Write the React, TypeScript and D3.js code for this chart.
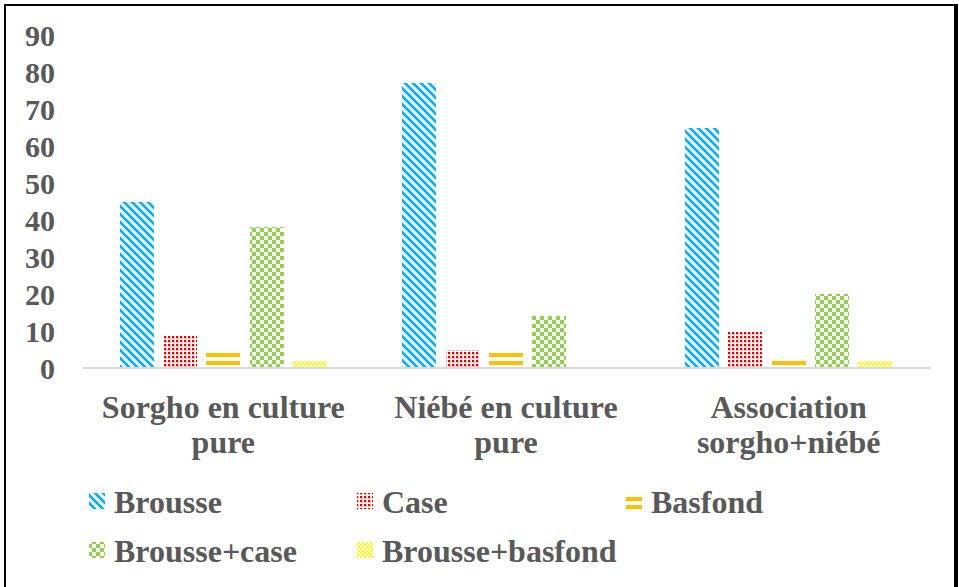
import React from "react";
import * as d3 from "d3";

const categories = ["Sorgho en culture pure", "Niébé en culture pure", "Association sorgho+niébé"];
const categoryLines = [["Sorgho en culture", "pure"], ["Niébé en culture", "pure"], ["Association", "sorgho+niébé"]];
const seriesNames = ["Brousse", "Case", "Basfond", "Brousse+case", "Brousse+basfond"];
const brousse = [45, 77, 65];
const caseV = [9, 5, 10];
const basfond = [4, 4, 3];
const brousseCase = [38, 14, 20];
const brousseBasfond = [2, 0, 2];
const yTicks = [0, 10, 20, 30, 40, 50, 60, 70, 80, 90];

const seriesValues = [brousse, caseV, basfond, brousseCase, brousseBasfond];
const patternIds = ["pBrousse", "pCase", "pBasfond", "pBrousseCase", "pBrousseBasfond"];

const W = 959, H = 587;
const TXT = "#595959";
const FONT = "'Liberation Serif', 'Times New Roman', serif";

function Patterns() {
  const diag: JSX.Element[] = [];
  for (let r = 0; r < 8; r++) {
    for (let k = 0; k < 5; k++) {
      const c = (r + k) % 8;
      const col = k === 0 || k === 4 ? "#9FDDF7" : "#00B0F0";
      diag.push(<rect key={r + "-" + k} x={c} y={r} width={1} height={1} fill={col} />);
    }
  }
  return (
    <defs>
      <pattern id="pBrousse" patternUnits="userSpaceOnUse" width={8} height={8}>
        <rect width={8} height={8} fill="#fff" />
        {diag}
      </pattern>
      <pattern id="pCase" patternUnits="userSpaceOnUse" width={4} height={4}>
        <rect width={4} height={4} fill="#fff" />
        <rect x={0} y={0} width={3} height={3} fill="#F6B8B8" />
        <rect x={0} y={0} width={2} height={2} fill="#E00000" />
      </pattern>
      <pattern id="pBasfond" patternUnits="userSpaceOnUse" width={8} height={8} y={1}>
        <rect width={8} height={8} fill="#fff" />
        <rect x={0} y={0} width={8} height={4} fill="#FFC000" />
      </pattern>
      <pattern id="pBrousseCase" patternUnits="userSpaceOnUse" width={8} height={8}>
        <rect width={8} height={8} fill="#fff" />
        <rect x={0} y={0} width={4} height={4} fill="#92D050" />
        <rect x={4} y={4} width={4} height={4} fill="#92D050" />
      </pattern>
      <pattern id="pBrousseBasfond" patternUnits="userSpaceOnUse" width={4} height={4}>
        <rect width={4} height={4} fill="#fff" />
        <rect x={0} y={0} width={2} height={2} fill="#FFFF00" />
        <rect x={2} y={2} width={2} height={2} fill="#FFFF00" />
      </pattern>
    </defs>
  );
}

export default function App() {
  const x0 = d3.scaleBand<string>().domain(categories).range([82, 930]).padding(0);
  const x1 = d3.scaleBand<string>().domain(seriesNames).range([0, x0.bandwidth()]).paddingInner(0.215).paddingOuter(0.87);
  const y = d3.scaleLinear().domain([0, 90]).range([368, 35]);

  const legendItems = [
    { i: 0, x: 89, y: 513 },
    { i: 1, x: 357, y: 513 },
    { i: 2, x: 626, y: 513 },
    { i: 3, x: 89, y: 562 },
    { i: 4, x: 357, y: 562 },
  ];

  return (
    <svg width={W} height={H} style={{ position: "absolute", left: 0, top: 0, background: "#fff" }} shapeRendering="crispEdges">
      <Patterns />
      <rect x={0} y={0} width={W} height={H} fill="#fff" />
      {yTicks.map((t) => (
        <text key={t} x={55} y={y(t)} dy="0.35em" textAnchor="end" fontFamily={FONT} fontWeight="bold" fontSize={30} fill={TXT}>
          {t}
        </text>
      ))}
      {categories.map((c, ci) => (
        <g key={c}>
          {seriesNames.map((s, si) => {
            const v = seriesValues[si][ci];
            if (v <= 0) return null;
            const bx = (x0(c) as number) + (x1(s) as number);
            return <rect key={s} x={bx} y={y(v)} width={x1.bandwidth()} height={y(0) - y(v)} fill={`url(#${patternIds[si]})`} />;
          })}
        </g>
      ))}
      <line x1={83} x2={931} y1={368} y2={368} stroke="#D9D9D9" strokeWidth={2} />
      {categories.map((c, ci) => (
        <text key={c} textAnchor="middle" fontFamily={FONT} fontWeight="bold" fontSize={32} fill={TXT}>
          {categoryLines[ci].map((ln, li) => (
            <tspan key={li} x={(x0(c) as number) + x0.bandwidth() / 2} y={418 + li * 35}>
              {ln}
            </tspan>
          ))}
        </text>
      ))}
      {legendItems.map((it) => (
        <g key={it.i}>
          <rect x={it.x} y={it.y - 20} width={16} height={16} fill={`url(#${patternIds[it.i]})`} />
          <text x={it.x + 25} y={it.y} fontFamily={FONT} fontWeight="bold" fontSize={32} fill={TXT}>
            {seriesNames[it.i]}
          </text>
        </g>
      ))}
      <rect x={5} y={5} width={950} height={600} fill="none" stroke="#000" strokeWidth={2} />
      <line x1={956.5} x2={956.5} y1={4} y2={H} stroke="#000" strokeWidth={3} />
    </svg>
  );
}
